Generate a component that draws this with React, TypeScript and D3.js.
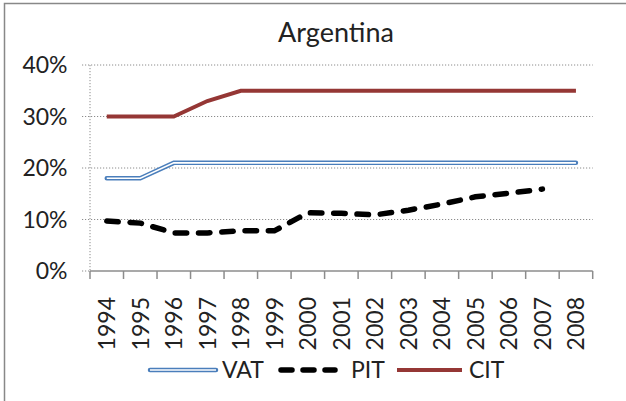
import * as d3 from "d3";

const years = ["1994","1995","1996","1997","1998","1999","2000","2001","2002","2003","2004","2005","2006","2007","2008"];
const vat = [18, 18, 21, 21, 21, 21, 21, 21, 21, 21, 21, 21, 21, 21, 21];
const pit = [9.7, 9.3, 7.4, 7.4, 7.8, 7.8, 11.3, 11.2, 10.9, 11.8, 13, 14.4, 15.1, 15.9];
const cit = [30, 30, 30, 33, 35, 35, 35, 35, 35, 35, 35, 35, 35, 35, 35];
const yTicks = [0, 10, 20, 30, 40];

const W = 626;
const H = 401;
const font = "Lato, 'Open Sans', sans-serif";
const grid = "#8c8c8c";
const fs = 23;

export default function App() {
  const x = d3.scaleBand<string>().domain(years).range([90, 592.7]);
  const y = d3.scaleLinear().domain([0, 40]).range([271, 65]);
  const cx = (i: number) => (x(years[i]) ?? 0) + x.bandwidth() / 2;

  const line = d3
    .line<number>()
    .x((_, i) => cx(i))
    .y((d) => y(d));

  const vatPath = line(vat) ?? "";
  const pitPath = line(pit) ?? "";
  const citPath = line(cit) ?? "";

  const tickXs = years.map((yr) => x(yr) ?? 0).concat([592.7]);

  return (
    <svg
      width={W}
      height={H}
      style={{ position: "absolute", left: 0, top: 0, background: "#fff" }}
      fontFamily={font}
    >
      {/* outer frame, cut off at right and bottom */}
      <rect x={4.5} y={3.5} width={W + 10} height={H + 10} fill="#fff" stroke="#888" strokeWidth={1.5} />

      <text x={336} y={42} textAnchor="middle" fontSize={27} fill="#222">
        Argentina
      </text>

      {/* grid lines */}
      {yTicks.map((t) => (
        <g key={t}>
          {t > 0 && (
            <line x1={82} x2={592.7} y1={y(t)} y2={y(t)} stroke={grid} strokeWidth={1} strokeDasharray="1.2 1.8" />
          )}
          {t === 0 && <line x1={82} x2={90} y1={y(t)} y2={y(t)} stroke={grid} strokeWidth={1} strokeDasharray="1.2 1.8" />}
          <text x={67.5} y={y(t)} dy="0.36em" textAnchor="end" fontSize={fs} fill="#222">
            {t}%
          </text>
        </g>
      ))}

      {/* y axis */}
      <line x1={90} x2={90} y1={y(40)} y2={y(0)} stroke={grid} strokeWidth={1} strokeDasharray="1.2 1.8" />

      {/* x axis */}
      <line x1={90} x2={592.7} y1={y(0)} y2={y(0)} stroke={grid} strokeWidth={1.5} />
      {tickXs.map((tx, i) => (
        <line key={i} x1={tx} x2={tx} y1={y(0)} y2={y(0) + 8} stroke={grid} strokeWidth={1.5} />
      ))}
      {years.map((yr, i) => (
        <text
          key={yr}
          transform={`translate(${cx(i)},297) rotate(-90)`}
          textAnchor="end"
          dy="0.36em"
          fontSize={fs}
          fill="#222"
        >
          {yr}
        </text>
      ))}

      {/* series */}
      <path d={citPath} fill="none" stroke="#953735" strokeWidth={4} />
      <path d={vatPath} fill="none" stroke="#4a7ebb" strokeWidth={4.5} strokeLinecap="round" />
      <path d={vatPath} fill="none" stroke="#fff" strokeWidth={1.6} />
      <path d={pitPath} fill="none" stroke="#000" strokeWidth={5.5} strokeDasharray="11.5 11.8" strokeLinecap="round" />

      {/* legend */}
      <g>
        <line x1={150} x2={216} y1={370} y2={370} stroke="#4a7ebb" strokeWidth={4.5} strokeLinecap="round" />
        <line x1={150} x2={216} y1={370} y2={370} stroke="#fff" strokeWidth={1.6} />
        <text x={222} y={370} dy="0.36em" fontSize={fs} fill="#222">VAT</text>

        <line x1={281} x2={335} y1={370} y2={370} stroke="#000" strokeWidth={5.5} strokeDasharray="11 11" strokeLinecap="round" />
        <text x={351} y={370} dy="0.36em" fontSize={fs} fill="#222">PIT</text>

        <line x1={397} x2={462} y1={370} y2={370} stroke="#953735" strokeWidth={4} />
        <text x={469} y={370} dy="0.36em" fontSize={fs} fill="#222">CIT</text>
      </g>
    </svg>
  );
}
